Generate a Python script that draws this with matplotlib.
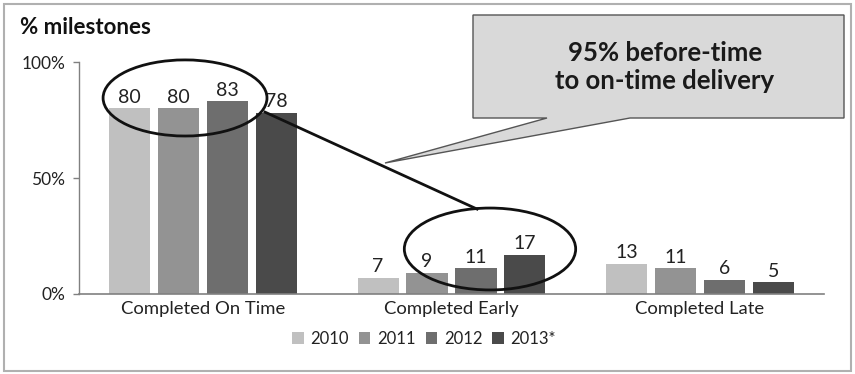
import matplotlib
matplotlib.use("Agg")
import matplotlib.pyplot as plt
from matplotlib.patches import Ellipse, Polygon, Rectangle
import numpy as np

plt.rcParams['font.family'] = ['Lato', 'DejaVu Sans']

categories = ["Completed On Time", "Completed Early", "Completed Late"]
years = ["2010", "2011", "2012", "2013*"]
values_2010 = [80, 7, 13]
values_2011 = [80, 9, 11]
values_2012 = [83, 11, 6]
values_2013 = [78, 17, 5]
series = [values_2010, values_2011, values_2012, values_2013]
colors = ["#c0c0c0", "#939393", "#6e6e6e", "#4a4a4a"]
yticks = [0, 50, 100]
ytick_labels = ["0%", "50%", "100%"]

W, H = 855, 374
fig = plt.figure(figsize=(W / 100, H / 100), dpi=100)
ax = fig.add_axes([79 / W, 1 - 294 / H, (824 - 79) / W, (294 - 62) / H])

x = np.arange(len(categories))
pitch = 0.197
width = 0.166
for i, (vals, col, yr) in enumerate(zip(series, colors, years)):
    pos = x + (i - 1.5) * pitch
    bars = ax.bar(pos, vals, width=width, color=col, label=yr, zorder=2)
    for b, v in zip(bars, vals):
        ax.annotate(f"{v}", (b.get_x() + b.get_width() / 2, v),
                    xytext=(0, 2), textcoords="offset points",
                    ha="center", va="bottom", fontsize=14, color="#222222")

ax.set_xlim(-0.5, 2.5)
ax.set_ylim(0, 100)
ax.set_yticks(yticks)
ax.set_yticklabels(ytick_labels)
ax.set_xticks(x)
ax.set_xticklabels(categories)
ax.tick_params(axis="x", length=0, pad=5, labelsize=13.3, labelcolor="#222222")
ax.tick_params(axis="y", length=4, width=1, color="#808080", pad=6,
               labelsize=12.5, labelcolor="#222222")
for s in ["top", "right"]:
    ax.spines[s].set_visible(False)
ax.spines["left"].set_color("#808080")
ax.spines["bottom"].set_color("#808080")
ax.spines["left"].set_linewidth(1)
ax.spines["bottom"].set_linewidth(1.2)

# highlight rings around the on-time and early groups, joined by a line
ring1 = Ellipse((-0.073, 84.5), 0.66, 32.8, fill=False, lw=2, ec="#111111",
                zorder=5, clip_on=False)
ring2 = Ellipse((1.155, 19.4), 0.69, 35.3, fill=False, lw=2, ec="#111111",
                zorder=5, clip_on=False)
ax.add_patch(ring1)
ax.add_patch(ring2)
ax.plot([0.249, 1.103], [78.4, 36.6], color="#111111", lw=2, zorder=5,
        clip_on=False)

# callout box
def fp(px, py):
    return (px / W, 1 - py / H)

callout = Polygon([fp(473, 15), fp(844, 15), fp(844, 118), fp(630, 118),
                   fp(385, 163), fp(547, 118), fp(473, 118)],
                  closed=True, transform=fig.transFigure, fc="#d9d9d9",
                  ec="#555555", lw=1, zorder=6)
fig.patches.append(callout)
fig.text(*fp(665, 67), "95% before-time\nto on-time delivery", ha="center",
         va="center", fontsize=18.5, fontweight="bold", color="#1a1a1a",
         linespacing=1.2, zorder=7)

fig.text(*fp(20, 28), "% milestones", ha="left", va="center", fontsize=16,
         fontweight="bold", color="#111111")

leg = fig.legend(loc="center", bbox_to_anchor=fp(424, 339), ncol=4,
                 frameon=False, fontsize=12, handlelength=0.7,
                 handleheight=0.7, handletextpad=0.4, columnspacing=0.6)
for t in leg.get_texts():
    t.set_color("#222222")

# outer frame
fig.patches.append(Rectangle(fp(4, 371), (851 - 4) / W, (371 - 4) / H,
                             transform=fig.transFigure, fill=False,
                             ec="#b0b0b0", lw=1.5))

fig.savefig("out.png", dpi=100)
